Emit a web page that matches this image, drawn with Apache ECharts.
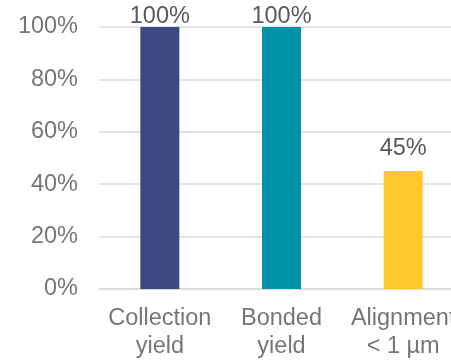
<!DOCTYPE html>
<html>
<head>
<meta charset="utf-8">
<script src="https://cdn.jsdelivr.net/npm/echarts@6/dist/echarts.min.js"></script>
<style>
  html, body { margin: 0; padding: 0; overflow: hidden; background: #fff; }
  #chart { width: 466px; height: 361px; }
</style>
</head>
<body>
<div id="chart"></div>
<script>
  // 数据
  var categories = ['Collection\nyield', 'Bonded\nyield', 'Alignment\n< 1 µm'];
  var values = [100, 100, 45];
  var barColors = ['#3D4A82', '#0093A7', '#FFC72C'];
  var labelGaps = [-2, -2, 11];   // Excel pushes the 100% labels down into the plot
  var yTicks = [0, 20, 40, 60, 80, 100];

  var myChart = echarts.init(document.getElementById('chart'));
  var option = {
    animation: false,
    grid: {
      left: 99,
      right: 2,
      top: 27,
      bottom: 72
    },
    xAxis: {
      type: 'category',
      data: categories,
      axisTick: { show: false },
      axisLine: { lineStyle: { color: '#D9D9D9', width: 1.5 } },
      axisLabel: {
        color: '#767676',
        fontFamily: 'Liberation Sans',
        fontSize: 23.5,
        lineHeight: 28,
        margin: 16,
        interval: 0
      }
    },
    yAxis: {
      type: 'value',
      min: yTicks[0],
      max: yTicks[yTicks.length - 1],
      interval: 20,
      axisLine: { show: false },
      axisTick: { show: false },
      splitLine: { lineStyle: { color: '#D9D9D9', width: 1.5 } },
      axisLabel: {
        color: '#767676',
        fontFamily: 'Liberation Sans',
        fontSize: 23.5,
        margin: 21,
        formatter: '{value}%'
      }
    },
    series: [{
      type: 'bar',
      barWidth: 39,
      data: values.map(function (v, i) {
        return {
          value: v,
          itemStyle: { color: barColors[i] },
          label: { distance: labelGaps[i] }
        };
      }),
      label: {
        show: true,
        position: 'top',
        color: '#595959',
        fontFamily: 'Liberation Sans',
        fontSize: 23.5,
        formatter: '{c}%'
      }
    }]
  };
  myChart.setOption(option);
</script>
</body>
</html>
